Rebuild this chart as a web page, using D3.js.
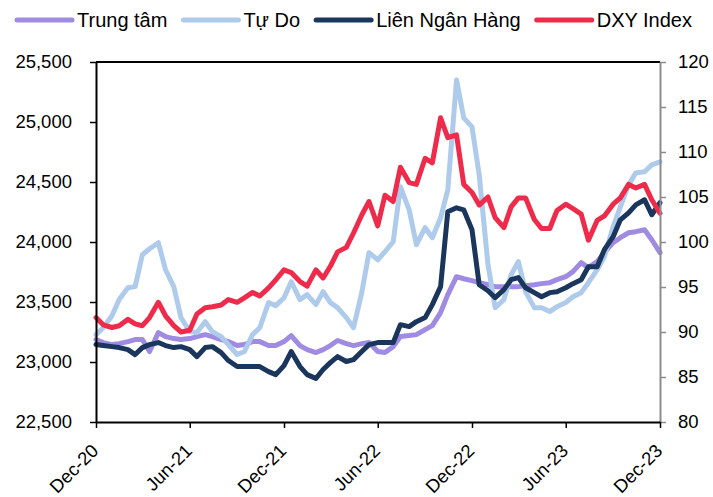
<!DOCTYPE html>
<html>
<head>
<meta charset="utf-8">
<script src="https://cdn.jsdelivr.net/npm/d3@7"></script>
<style>
  body { margin: 0; background: #fff; }
  text { font-family: "Liberation Sans", Arial, sans-serif; fill: #000; }
</style>
</head>
<body>
<div id="chart"></div>
<script>
// semi-monthly sampling of the four series
const dates = [
  "2020-12-01","2020-12-15","2021-01-01","2021-01-15","2021-02-01","2021-02-15","2021-03-01","2021-03-15",
  "2021-04-01","2021-04-15","2021-05-01","2021-05-15","2021-06-01","2021-06-15","2021-07-01","2021-07-15",
  "2021-08-01","2021-08-15","2021-09-01","2021-09-15","2021-10-01","2021-10-15","2021-11-01","2021-11-15",
  "2021-12-01","2021-12-15","2022-01-01","2022-01-15","2022-02-01","2022-02-15","2022-03-01","2022-03-15",
  "2022-04-01","2022-04-15","2022-05-01","2022-05-15","2022-06-01","2022-06-15","2022-07-01","2022-07-15",
  "2022-08-01","2022-08-15","2022-09-01","2022-09-15","2022-10-01","2022-10-15","2022-11-01","2022-11-15",
  "2022-12-01","2022-12-15","2023-01-01","2023-01-15","2023-02-01","2023-02-15","2023-03-01","2023-03-15",
  "2023-04-01","2023-04-15","2023-05-01","2023-05-15","2023-06-01","2023-06-15","2023-07-01","2023-07-15",
  "2023-08-01","2023-08-15","2023-09-01","2023-09-15","2023-10-01","2023-10-15","2023-11-01","2023-11-15",
  "2023-12-01"
]

const trungTam = [
  23187,23162,23145,23153,23170,23187,23187,23087,23245,23212,23195,23187,23195,23212,23228,23212,
  23187,23170,23137,23145,23170,23170,23137,23137,23170,23220,23137,23103,23079,23103,23137,23179,
  23153,23137,23153,23162,23087,23079,23128,23212,23220,23228,23270,23303,23412,23561,23711,23694,
  23678,23661,23644,23628,23628,23628,23628,23636,23644,23653,23661,23686,23711,23753,23828,23786,
  23836,23911,23994,24036,24077,24086,24102,24019,23911
]

const tuDo = [
  23228,23286,23386,23520,23619,23628,23894,23944,23994,23769,23628,23370,23253,23245,23336,23253,
  23212,23145,23062,23087,23228,23286,23495,23470,23536,23669,23520,23561,23478,23586,23495,23453,
  23370,23286,23578,23911,23852,23919,24002,24460,24268,23977,24119,24036,24202,24435,25350,25034,
  24959,24560,23811,23453,23520,23728,23836,23586,23453,23453,23420,23461,23495,23544,23578,23661,
  23769,23877,24127,24293,24476,24576,24585,24643,24668
]

const lienNganHang = [
  23145,23137,23128,23120,23103,23062,23120,23145,23162,23137,23120,23128,23103,23045,23120,23128,
  23078,23012,22962,22962,22962,22962,22920,22895,22970,23087,22962,22895,22862,22937,22995,23045,
  23004,23020,23087,23145,23162,23162,23162,23311,23295,23336,23370,23478,23628,24252,24285,24268,
  24102,23644,23594,23536,23603,23686,23703,23619,23578,23544,23578,23586,23619,23653,23686,23794,
  23794,23936,24044,24185,24243,24310,24352,24227,24327
]

const dxy = [
  91.6,90.8,90.5,90.7,91.4,90.9,90.7,91.6,93.3,91.8,90.7,90.0,90.2,92.0,92.7,92.8,
  93.0,93.6,93.3,93.8,94.4,94.0,94.9,95.8,96.9,96.6,95.6,95.1,96.9,96.0,97.3,98.9,
  99.4,101.0,103.0,104.5,101.8,105.2,104.5,108.3,106.6,106.4,109.3,108.8,113.8,111.6,111.9,106.4,
  105.5,104.1,105.0,102.7,101.6,103.9,104.9,104.9,102.5,101.5,101.5,103.5,104.2,103.7,103.1,100.2,
  102.4,102.9,104.2,104.9,106.4,106.0,106.4,104.7,103.2
]

const seriesNames = ["Trung tâm", "Tự Do", "Liên Ngân Hàng", "DXY Index"]
const seriesColors = ["#a08be3", "#aecbeb", "#1a365d", "#ee2b4b"]

const leftTicks = [22500, 23000, 23500, 24000, 24500, 25000, 25500]
const rightTicks = [80, 85, 90, 95, 100, 105, 110, 115, 120]
const xTickDates = ["2020-12-01","2021-06-01","2021-12-01","2022-06-01","2022-12-01","2023-06-01","2023-12-01"]
const xTickLabels = ["Dec-20","Jun-21","Dec-21","Jun-22","Dec-22","Jun-23","Dec-23"]

const width = 713
const height = 497
const margin = {top: 62, right: 53, bottom: 75, left: 96}

const parse = d3.timeParse("%Y-%m-%d")
const dateValues = dates.map(parse)

const svg = d3.select("#chart").append("svg")
  .attr("width", width).attr("height", height)

const x = d3.scaleTime()
  .domain([parse("2020-12-01"), parse("2023-12-01")])
  .range([margin.left, width - margin.right])
const yLeft = d3.scaleLinear().domain([22500, 25500]).range([height - margin.bottom, margin.top])
const yRight = d3.scaleLinear().domain([80, 120]).range([height - margin.bottom, margin.top])

const fontSize = 18.5

// lines (legend order, DXY on top)
const series = [
  {values: trungTam, scale: yLeft},
  {values: tuDo, scale: yLeft},
  {values: lienNganHang, scale: yLeft},
  {values: dxy, scale: yRight}
]

const lineGroup = svg.append("g").attr("id", "lines")
series.forEach((s, i) => {
  const line = d3.line()
    .x((d, j) => x(dateValues[j]))
    .y(d => s.scale(d))
  lineGroup.append("path")
    .datum(s.values)
    .attr("d", line)
    .attr("fill", "none")
    .attr("stroke", seriesColors[i])
    .attr("stroke-width", 5)
    .attr("stroke-linejoin", "round")
    .attr("stroke-linecap", "round")
})

// top border
svg.append("line")
  .attr("x1", margin.left).attr("x2", width - margin.right)
  .attr("y1", margin.top).attr("y2", margin.top)
  .attr("stroke", "#000").attr("stroke-width", 2)

// left axis
const leftAxis = svg.append("g")
  .attr("transform", `translate(${margin.left},0)`)
  .call(d3.axisLeft(yLeft).tickValues(leftTicks).tickSize(6).tickSizeOuter(0).tickPadding(18)
    .tickFormat(d3.format(",")))
leftAxis.select(".domain").attr("stroke", "#000").attr("stroke-width", 2)
leftAxis.selectAll(".tick line").attr("stroke", "#000").attr("stroke-width", 1.5)
leftAxis.selectAll("text").attr("font-size", fontSize).attr("fill", "#000")

// right axis
const rightAxis = svg.append("g")
  .attr("transform", `translate(${width - margin.right},0)`)
  .call(d3.axisRight(yRight).tickValues(rightTicks).tickSize(6).tickSizeOuter(0).tickPadding(12))
rightAxis.select(".domain").attr("stroke", "#8c8c8c").attr("stroke-width", 2)
rightAxis.selectAll(".tick line").attr("stroke", "#8c8c8c").attr("stroke-width", 1.5)
rightAxis.selectAll("text").attr("font-size", fontSize).attr("fill", "#000")

// bottom axis
const bottomAxis = svg.append("g")
  .attr("transform", `translate(0,${height - margin.bottom})`)
  .call(d3.axisBottom(x).tickValues(xTickDates.map(parse)).tickSize(6).tickSizeOuter(0)
    .tickFormat((d, i) => xTickLabels[i]))
bottomAxis.select(".domain").attr("stroke", "#000").attr("stroke-width", 2)
bottomAxis.selectAll(".tick line").attr("stroke", "#000").attr("stroke-width", 1.5)
bottomAxis.selectAll("text")
  .attr("font-size", fontSize).attr("fill", "#000")
  .attr("y", 0).attr("dy", 0)
  .attr("text-anchor", "end")
  .attr("transform", "translate(3,30) rotate(-45)")

// legend
const legend = svg.append("g").attr("id", "legend")
let lx = 17
seriesNames.forEach((name, i) => {
  legend.append("line")
    .attr("x1", lx).attr("x2", lx + 55).attr("y1", 20).attr("y2", 20)
    .attr("stroke", seriesColors[i]).attr("stroke-width", 5).attr("stroke-linecap", "round")
  const t = legend.append("text")
    .attr("x", lx + 60).attr("y", 27)
    .attr("font-size", 20)
    .text(name)
  lx += 60 + t.node().getComputedTextLength() + 16
})
</script>
</body>
</html>
